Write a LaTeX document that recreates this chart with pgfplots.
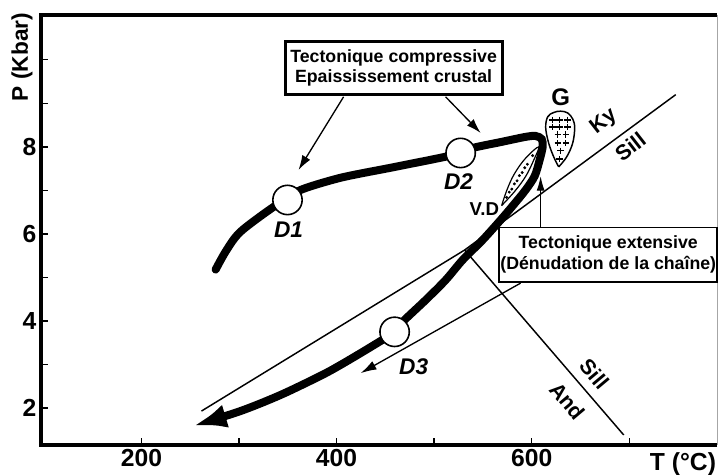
\documentclass[border=0pt]{standalone}
\usepackage{fontspec}
\setmainfont{Liberation Sans}
\usepackage{pgfplots}
\pgfplotsset{compat=1.18}
\usetikzlibrary{arrows.meta}
\newcommand\lab[1]{\fontsize{#1}{#1}\selectfont\bfseries}

\begin{document}
\begin{tikzpicture}
\begin{axis}[
  scale only axis,
  width=507pt, height=322.5pt,
  xmin=97, xmax=790, ymin=1.15, ymax=11.03,
  axis line style={draw=none},
  xtick={200,400,600}, minor xtick={300,500,700},
  ytick={2,4,6,8}, minor ytick={3,5,7,9,10},
  xtick pos=bottom, ytick pos=left,
  tick align=inside,
  major tick length=5pt, minor tick length=5pt,
  tick style={black, line width=1pt},
  /pgf/number format/assume math mode=true,
  tick label style={font=\lab{18.5}},
  clip=false,
]
% frame
\draw[line width=3pt, line join=miter] (rel axis cs:1,0) -- (rel axis cs:0,0) -- (rel axis cs:0,1) -- (rel axis cs:1,1);
\draw[black!35, line width=0.6pt] (rel axis cs:1,0) -- (rel axis cs:1,1);
\coordinate (bl) at (rel axis cs:0,0);
\coordinate (tr) at (rel axis cs:1,1);

% reaction lines And-Ky, Ky-Sill, And-Sill
\addplot[line width=1.1pt] coordinates {(261.5,1.93) (531.3,5.63) (747.7,9.20)};
\addplot[line width=1.1pt] coordinates {(531.3,5.63) (694.4,1.38)};

% P-T path
\addplot[line width=6pt, smooth, tension=0.5, line cap=round,
  -{Latex[length=25pt,width=18pt]}] coordinates {
  (276.0,5.18) (287.0,5.62) (301.5,6.05) (335.4,6.62) (349.7,6.78) (363.1,7.01)
  (404.1,7.29) (455.4,7.52) (506.7,7.75) (527.2,7.86) (540.5,7.98)
  (568.2,8.11) (593.8,8.23) (604.1,8.25) (610.3,8.18) (611.3,8.00)
  (608.2,7.70) (603.1,7.33) (593.8,7.01) (581.5,6.67) (568.2,6.32)
  (549.7,5.86) (529.2,5.40) (511.8,4.94) (491.3,4.48) (467.7,3.98)
  (459.5,3.75) (434.9,3.40) (404.1,2.99) (383.6,2.74) (342.6,2.30)
  (301.5,1.93) (253.3,1.59)};

% V.D lens
\addplot[line width=0.9pt, fill=white, smooth, tension=0.6] coordinates {
  (569.2,6.65) (582.7,6.98) (593.8,7.32) (601.4,7.66) (607.2,8.00)
  (593.4,7.73) (582.3,7.38) (575.0,7.03) (569.2,6.65)};
\addplot[only marks, mark=*, mark size=0.9pt, black] coordinates {
  (574.3,6.84) (579.6,7.03) (585.0,7.22) (590.3,7.41) (595.6,7.60)
  (601.0,7.80) (582.3,7.15) (592.9,7.52) (587.4,7.34) (577.0,6.96)};

% granite G
\addplot[line width=1.1pt, fill=white, smooth, tension=0.6] coordinates {
  (627.7,7.54) (622.6,7.77) (617.4,8.09) (614.4,8.44) (616.4,8.69)
  (622.6,8.79) (629.7,8.82) (636.9,8.78) (642.1,8.64) (644.1,8.44)
  (642.1,8.09) (635.9,7.77) (627.7,7.54)};
\addplot[only marks, mark=+, mark size=2.4pt, mark options={line width=1pt}] coordinates {
  (621.5,8.62) (628.7,8.62) (636.9,8.62)
  (621.5,8.46) (628.7,8.46) (636.9,8.46)
  (626.7,8.28) (634.9,8.28)
  (626.7,8.09) (634.9,8.09)
  (629.7,7.91) (628.7,7.72)};

% arrows
\addplot[line width=1pt, -{Latex[length=11pt,width=7pt]}] coordinates {(407.2,9.15) (361.0,7.47)};
\addplot[line width=1pt, -{Latex[length=11pt,width=7pt]}] coordinates {(511.8,9.15) (547.7,8.32)};
\addplot[line width=1pt, -{Latex[length=12pt,width=7pt]}] coordinates {(588.7,4.87) (424.6,2.80)};
\addplot[line width=1pt, -{Latex[length=11pt,width=6pt]}] coordinates {(609.2,6.16) (609.2,7.33)};

% stages D1 D2 D3
\addplot[only marks, mark=*, mark size=11pt, mark options={fill=white, draw=black, line width=1.2pt}]
  coordinates {(349.7,6.78) (527.2,7.86) (459.5,3.75)};
\node[font=\lab{17}\itshape] at (350.8,6.09) {D1};
\node[font=\lab{17}\itshape] at (525.1,7.20) {D2};
\node[font=\lab{17}\itshape] at (479.0,2.94) {D3};

% boxes
\node[draw, line width=2.2pt, fill=white, minimum width=162.75pt, minimum height=39.75pt,
  align=center, inner sep=0pt, font=\fontsize{13.3}{15}\selectfont\bfseries]
  at (458.5,9.82) {Tectonique compressive\\Epaississement crustal};
\node[draw, line width=1.3pt, fill=white, minimum width=163.5pt, minimum height=41pt,
  align=center, inner sep=0pt, font=\fontsize{13.3}{15.75}\selectfont\bfseries]
  at (678.5,5.52) {Tectonique extensive\\(Dénudation de la chaîne)};

% other labels
\node[font=\lab{18}] at (629.7,9.13) {G};
\node[font=\lab{16}, rotate=38] at (674.0,8.58) {Ky};
\node[font=\lab{16}, rotate=38] at (701.0,8.00) {Sill};
\node[font=\lab{16}, rotate=-50] at (664.5,2.78) {Sill};
\node[font=\lab{16}, rotate=-50] at (637.0,2.16) {And};
\node[font=\lab{14}] at (551.5,6.58) {V.D};

\node[font=\lab{17}, rotate=90] at ([xshift=-14.25pt,yshift=-31.5pt]rel axis cs:0,1) {P (Kbar)};
\node[font=\lab{18.5}] at ([xshift=-25.5pt,yshift=-14.25pt]rel axis cs:1,0) {T (°C)};
\end{axis}
\pgfresetboundingbox
\path ([shift={(-30.75pt,-22.5pt)}]bl) rectangle ([shift={(0.75pt,11.25pt)}]tr);
\end{tikzpicture}
\end{document}
